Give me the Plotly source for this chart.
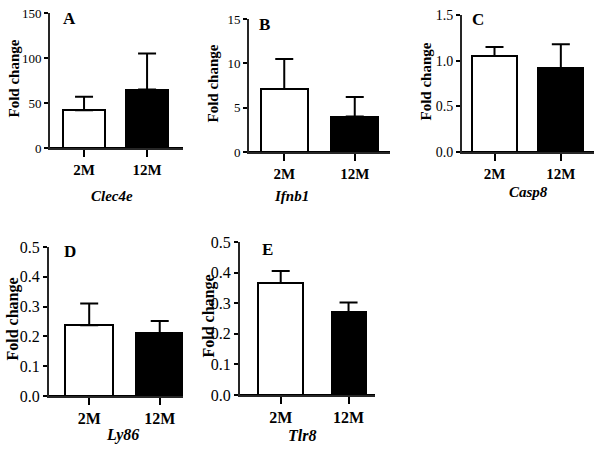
import plotly.graph_objects as go

W, H = 600, 455

categories = ["2M", "12M"]
panel_letters = ["A", "B", "C", "D", "E"]
genes = ["Clec4e", "Ifnb1", "Casp8", "Ly86", "Tlr8"]
means_A = [42, 65]
errs_A = [15, 40]
means_B = [7.1, 4.0]
errs_B = [3.4, 2.2]
means_C = [1.05, 0.92]
errs_C = [0.10, 0.26]
means_D = [0.237, 0.211]
errs_D = [0.073, 0.041]
means_E = [0.366, 0.270]
errs_E = [0.039, 0.032]
y_max = [150, 15, 1.5, 0.5, 0.5]
y_step = [50, 5, 0.5, 0.1, 0.1]
y_fmt = ["d", "d", ".1f", ".1f", ".1f"]

means = [means_A, means_B, means_C, means_D, means_E]
errs = [errs_A, errs_B, errs_C, errs_D, errs_E]

# layout (pixel geometry)
panels = [
    dict(x0=50, x1=183, y0=13, y1=148, xr=[-0.54, 1.57], bw=[0.67, 0.67], fs=13, xfs=15,
         letter=(69, 19), gene=(112, 196), ytitle_x=13),
    dict(x0=249, x1=390, y0=19, y1=152, xr=[-0.50, 1.50], bw=[0.67, 0.67], fs=13, xfs=15,
         letter=(264, 24), gene=(291, 196), ytitle_x=212),
    dict(x0=462, x1=594, y0=15, y1=152, xr=[-0.49, 1.50], bw=[0.68, 0.68], fs=14, xfs=15,
         letter=(478, 20), gene=(528, 192), ytitle_x=425),
    dict(x0=49, x1=183, y0=247, y1=396, xr=[-0.57, 1.33], bw=[0.68, 0.68], fs=16, xfs=16,
         letter=(70, 251), gene=(123, 435), ytitle_x=12),
    dict(x0=240, x1=375, y0=242, y1=395, xr=[-0.60, 1.39], bw=[0.66, 0.50], fs=16, xfs=16,
         letter=(267, 249), gene=(302, 435), ytitle_x=208),
]

FONT = "Liberation Serif, Times New Roman, serif"
LINE = "#262626"
fig = go.Figure()
annotations = []

for i, p in enumerate(panels):
    n = i + 1
    xa = "x" if n == 1 else f"x{n}"
    ya = "y" if n == 1 else f"y{n}"
    fig.add_trace(go.Bar(
        x=categories, y=means[i], width=p["bw"],
        marker=dict(color=["white", "black"], line=dict(color="black", width=2)),
        error_y=dict(type="data", symmetric=False, array=errs[i], arrayminus=[0, 0],
                     color="black", thickness=2, width=9),
        xaxis=xa, yaxis=ya, showlegend=False,
    ))
    xkey = "xaxis" if n == 1 else f"xaxis{n}"
    ykey = "yaxis" if n == 1 else f"yaxis{n}"
    fig.update_layout(**{
        xkey: dict(domain=[p["x0"] / W, p["x1"] / W], anchor=ya, range=p["xr"],
                   automargin=False, fixedrange=True,
                   showline=True, linecolor=LINE, linewidth=2, ticks="outside",
                   ticklen=7, tickwidth=2, tickcolor="black", showgrid=False,
                   zeroline=False,
                   tickfont=dict(family=FONT, size=p["xfs"], color="black", weight="bold")),
        ykey: dict(domain=[1 - p["y1"] / H, 1 - p["y0"] / H], anchor=xa,
                   range=[0, y_max[i]], dtick=y_step[i], tick0=0, tickformat=y_fmt[i],
                   automargin=False, fixedrange=True,
                   showline=True, linecolor=LINE, linewidth=2, ticks="outside",
                   ticklen=4, tickwidth=2, tickcolor="black", showgrid=False,
                   zeroline=True, zerolinecolor="black", zerolinewidth=2,
                   tickfont=dict(family=FONT, size=p["fs"], color="black")),
    })
    common = dict(xref="paper", yref="paper", showarrow=False, xanchor="center",
                  yanchor="middle")
    annotations.append(dict(x=p["letter"][0] / W, y=1 - p["letter"][1] / H,
                            text=f"<b>{panel_letters[i]}</b>",
                            font=dict(family=FONT, size=17, color="black"), **common))
    annotations.append(dict(x=p["gene"][0] / W, y=1 - p["gene"][1] / H,
                            text=f"<b><i>{genes[i]}</i></b>",
                            font=dict(family=FONT, size=p["xfs"], color="black"), **common))
    annotations.append(dict(x=p["ytitle_x"] / W, y=1 - ((p["y0"] + p["y1"]) / 2 - 2) / H,
                            text="<b>Fold change</b>", textangle=-90,
                            font=dict(family=FONT, size=p["xfs"], color="black"), **common))

fig.update_layout(
    width=W, height=H, margin=dict(l=0, r=0, t=0, b=0, autoexpand=False),
    paper_bgcolor="white", plot_bgcolor="white",
    bargap=0, annotations=annotations,
)

fig.write_html("out.html", config={"displayModeBar": False},
               post_script="document.body.style.margin='0';")
